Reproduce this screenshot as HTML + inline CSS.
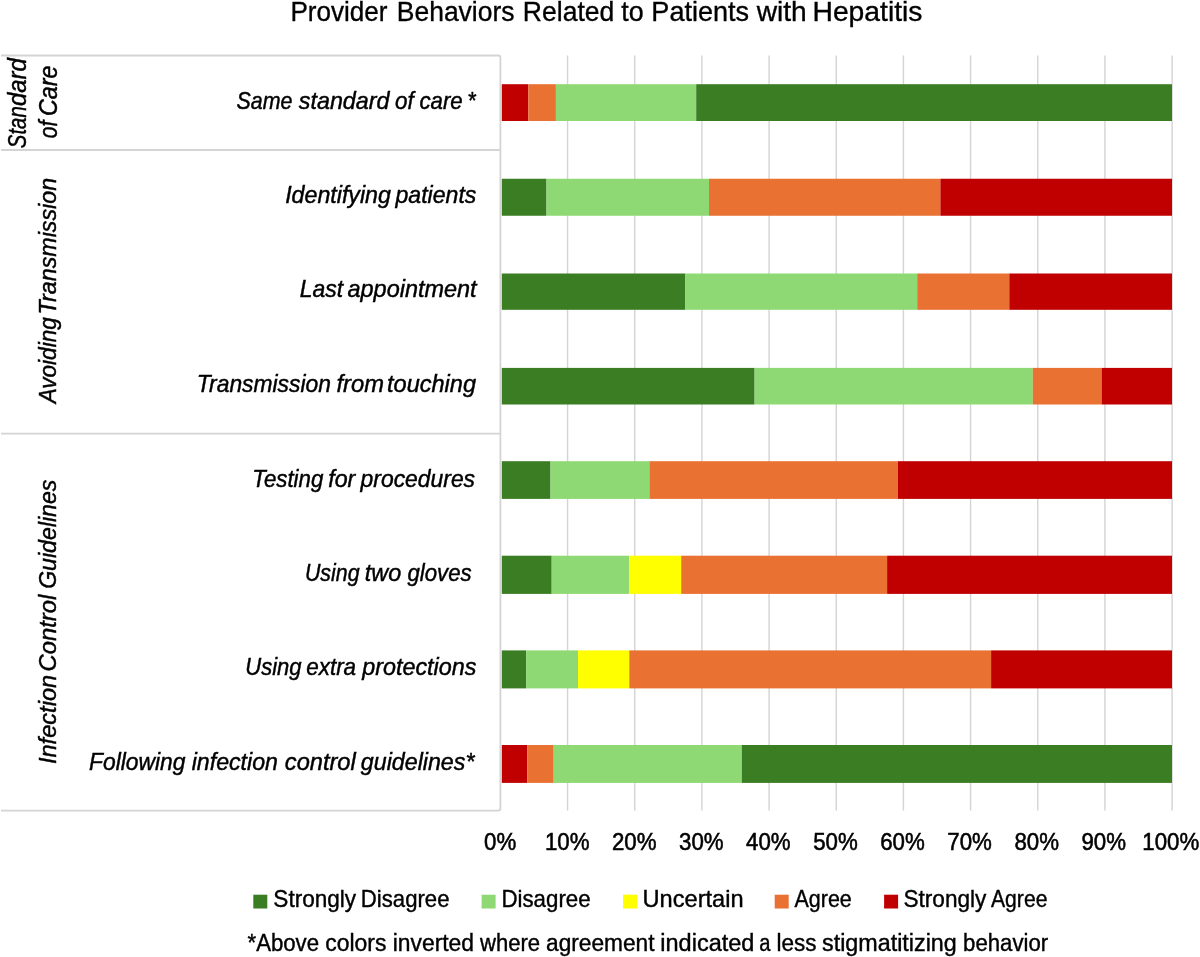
<!DOCTYPE html>
<html><head><meta charset="utf-8"><style>
html,body{margin:0;padding:0;background:#fff;width:1200px;height:957px;overflow:hidden}
svg{display:block;will-change:transform;font-family:"Liberation Sans",sans-serif}
text{fill:#000}
</style></head><body>
<svg width="1200" height="957" viewBox="0 0 1200 957">
<rect width="1200" height="957" fill="#fff"/>
<line x1="567.57" y1="55.5" x2="567.57" y2="810.5" stroke="#D4D4D4" stroke-width="1.4"/>
<line x1="634.74" y1="55.5" x2="634.74" y2="810.5" stroke="#D4D4D4" stroke-width="1.4"/>
<line x1="701.91" y1="55.5" x2="701.91" y2="810.5" stroke="#D4D4D4" stroke-width="1.4"/>
<line x1="769.08" y1="55.5" x2="769.08" y2="810.5" stroke="#D4D4D4" stroke-width="1.4"/>
<line x1="836.25" y1="55.5" x2="836.25" y2="810.5" stroke="#D4D4D4" stroke-width="1.4"/>
<line x1="903.42" y1="55.5" x2="903.42" y2="810.5" stroke="#D4D4D4" stroke-width="1.4"/>
<line x1="970.59" y1="55.5" x2="970.59" y2="810.5" stroke="#D4D4D4" stroke-width="1.4"/>
<line x1="1037.76" y1="55.5" x2="1037.76" y2="810.5" stroke="#D4D4D4" stroke-width="1.4"/>
<line x1="1104.93" y1="55.5" x2="1104.93" y2="810.5" stroke="#D4D4D4" stroke-width="1.4"/>
<line x1="1172.10" y1="55.5" x2="1172.10" y2="810.5" stroke="#D4D4D4" stroke-width="1.4"/>
<line x1="1" y1="150.0" x2="500.4" y2="150.0" stroke="#D4D4D4" stroke-width="1.8"/>
<line x1="1" y1="433.6" x2="500.4" y2="433.6" stroke="#D4D4D4" stroke-width="1.8"/>
<path d="M1 55.5 H498.4 Q500.4 55.5 500.4 57.5 V808.6 Q500.4 810.6 498.4 810.6 H1" fill="none" stroke="#D4D4D4" stroke-width="1.8"/>
<rect x="501.80" y="84.2" width="26.60" height="36.80" fill="#C00000"/>
<rect x="528.40" y="84.2" width="27.50" height="36.80" fill="#E97132"/>
<rect x="555.90" y="84.2" width="140.30" height="36.80" fill="#8ED973"/>
<rect x="696.20" y="84.2" width="475.80" height="36.80" fill="#3A7D22"/>
<rect x="501.80" y="178.75" width="44.70" height="37.00" fill="#3A7D22"/>
<rect x="546.50" y="178.75" width="162.50" height="37.00" fill="#8ED973"/>
<rect x="709.00" y="178.75" width="231.40" height="37.00" fill="#E97132"/>
<rect x="940.40" y="178.75" width="231.60" height="37.00" fill="#C00000"/>
<rect x="501.80" y="273.5" width="183.60" height="36.30" fill="#3A7D22"/>
<rect x="685.40" y="273.5" width="231.80" height="36.30" fill="#8ED973"/>
<rect x="917.20" y="273.5" width="92.10" height="36.30" fill="#E97132"/>
<rect x="1009.30" y="273.5" width="162.70" height="36.30" fill="#C00000"/>
<rect x="501.80" y="367.9" width="252.80" height="36.60" fill="#3A7D22"/>
<rect x="754.60" y="367.9" width="278.20" height="36.60" fill="#8ED973"/>
<rect x="1032.80" y="367.9" width="68.80" height="36.60" fill="#E97132"/>
<rect x="1101.60" y="367.9" width="70.40" height="36.60" fill="#C00000"/>
<rect x="501.80" y="461.2" width="48.70" height="37.70" fill="#3A7D22"/>
<rect x="550.50" y="461.2" width="98.90" height="37.70" fill="#8ED973"/>
<rect x="649.40" y="461.2" width="248.50" height="37.70" fill="#E97132"/>
<rect x="897.90" y="461.2" width="274.10" height="37.70" fill="#C00000"/>
<rect x="501.80" y="555.7" width="49.90" height="38.20" fill="#3A7D22"/>
<rect x="551.70" y="555.7" width="77.60" height="38.20" fill="#8ED973"/>
<rect x="629.30" y="555.7" width="51.90" height="38.20" fill="#FFFF00"/>
<rect x="681.20" y="555.7" width="205.90" height="38.20" fill="#E97132"/>
<rect x="887.10" y="555.7" width="284.90" height="38.20" fill="#C00000"/>
<rect x="501.80" y="650.4" width="24.40" height="38.00" fill="#3A7D22"/>
<rect x="526.20" y="650.4" width="51.80" height="38.00" fill="#8ED973"/>
<rect x="578.00" y="650.4" width="51.30" height="38.00" fill="#FFFF00"/>
<rect x="629.30" y="650.4" width="361.80" height="38.00" fill="#E97132"/>
<rect x="991.10" y="650.4" width="180.90" height="38.00" fill="#C00000"/>
<rect x="501.80" y="745.0" width="25.50" height="37.90" fill="#C00000"/>
<rect x="527.30" y="745.0" width="26.40" height="37.90" fill="#E97132"/>
<rect x="553.70" y="745.0" width="188.10" height="37.90" fill="#8ED973"/>
<rect x="741.80" y="745.0" width="430.20" height="37.90" fill="#3A7D22"/>
<text x="290.44" y="21.25" font-size="28.0" stroke="#000" stroke-width="0.35" textLength="97.11" lengthAdjust="spacingAndGlyphs">Provider</text>
<text x="396.81" y="21.25" font-size="28.0" stroke="#000" stroke-width="0.35" textLength="117.68" lengthAdjust="spacingAndGlyphs">Behaviors</text>
<text x="522.80" y="21.25" font-size="28.0" stroke="#000" stroke-width="0.35" textLength="91.53" lengthAdjust="spacingAndGlyphs">Related</text>
<text x="621.30" y="21.25" font-size="28.0" stroke="#000" stroke-width="0.35" textLength="22.40" lengthAdjust="spacingAndGlyphs">to</text>
<text x="651.37" y="21.25" font-size="28.0" stroke="#000" stroke-width="0.35" textLength="97.77" lengthAdjust="spacingAndGlyphs">Patients</text>
<text x="756.70" y="21.25" font-size="28.0" stroke="#000" stroke-width="0.35" textLength="50.11" lengthAdjust="spacingAndGlyphs">with</text>
<text x="812.48" y="21.25" font-size="28.0" stroke="#000" stroke-width="0.35" textLength="109.97" lengthAdjust="spacingAndGlyphs">Hepatitis</text>
<text x="236.51" y="108.75" font-size="24.0" font-style="italic" stroke="#000" stroke-width="0.45" textLength="55.92" lengthAdjust="spacingAndGlyphs">Same</text>
<text x="298.80" y="108.75" font-size="24.0" font-style="italic" stroke="#000" stroke-width="0.45" textLength="90.72" lengthAdjust="spacingAndGlyphs">standard</text>
<text x="395.00" y="108.75" font-size="24.0" font-style="italic" stroke="#000" stroke-width="0.45" textLength="18.65" lengthAdjust="spacingAndGlyphs">of</text>
<text x="419.47" y="108.75" font-size="24.0" font-style="italic" stroke="#000" stroke-width="0.45" textLength="43.26" lengthAdjust="spacingAndGlyphs">care</text>
<text x="467.20" y="108.75" font-size="24.0" font-style="italic" stroke="#000" stroke-width="0.45" textLength="8.41" lengthAdjust="spacingAndGlyphs">*</text>
<text x="285.13" y="202.5" font-size="24.0" font-style="italic" stroke="#000" stroke-width="0.45" textLength="105.76" lengthAdjust="spacingAndGlyphs">Identifying</text>
<text x="395.46" y="202.5" font-size="24.0" font-style="italic" stroke="#000" stroke-width="0.45" textLength="80.90" lengthAdjust="spacingAndGlyphs">patients</text>
<text x="299.74" y="297.0" font-size="24.0" font-style="italic" stroke="#000" stroke-width="0.45" textLength="43.41" lengthAdjust="spacingAndGlyphs">Last</text>
<text x="347.50" y="297.0" font-size="24.0" font-style="italic" stroke="#000" stroke-width="0.45" textLength="129.11" lengthAdjust="spacingAndGlyphs">appointment</text>
<text x="196.85" y="392.0" font-size="24.0" font-style="italic" stroke="#000" stroke-width="0.45" textLength="134.03" lengthAdjust="spacingAndGlyphs">Transmission</text>
<text x="336.51" y="392.0" font-size="24.0" font-style="italic" stroke="#000" stroke-width="0.45" textLength="47.48" lengthAdjust="spacingAndGlyphs">from</text>
<text x="387.02" y="392.0" font-size="24.0" font-style="italic" stroke="#000" stroke-width="0.45" textLength="88.99" lengthAdjust="spacingAndGlyphs">touching</text>
<text x="252.35" y="486.7" font-size="24.0" font-style="italic" stroke="#000" stroke-width="0.45" textLength="70.94" lengthAdjust="spacingAndGlyphs">Testing</text>
<text x="328.23" y="486.7" font-size="24.0" font-style="italic" stroke="#000" stroke-width="0.45" textLength="27.07" lengthAdjust="spacingAndGlyphs">for</text>
<text x="360.55" y="486.7" font-size="24.0" font-style="italic" stroke="#000" stroke-width="0.45" textLength="114.52" lengthAdjust="spacingAndGlyphs">procedures</text>
<text x="304.91" y="580.8" font-size="24.0" font-style="italic" stroke="#000" stroke-width="0.45" textLength="54.61" lengthAdjust="spacingAndGlyphs">Using</text>
<text x="364.83" y="580.8" font-size="24.0" font-style="italic" stroke="#000" stroke-width="0.45" textLength="36.32" lengthAdjust="spacingAndGlyphs">two</text>
<text x="407.50" y="580.8" font-size="24.0" font-style="italic" stroke="#000" stroke-width="0.45" textLength="64.15" lengthAdjust="spacingAndGlyphs">gloves</text>
<text x="245.33" y="675.4" font-size="24.0" font-style="italic" stroke="#000" stroke-width="0.45" textLength="56.25" lengthAdjust="spacingAndGlyphs">Using</text>
<text x="306.16" y="675.4" font-size="24.0" font-style="italic" stroke="#000" stroke-width="0.45" textLength="49.97" lengthAdjust="spacingAndGlyphs">extra</text>
<text x="362.22" y="675.4" font-size="24.0" font-style="italic" stroke="#000" stroke-width="0.45" textLength="114.17" lengthAdjust="spacingAndGlyphs">protections</text>
<text x="89.05" y="770.0" font-size="24.0" font-style="italic" stroke="#000" stroke-width="0.45" textLength="96.32" lengthAdjust="spacingAndGlyphs">Following</text>
<text x="191.70" y="770.0" font-size="24.0" font-style="italic" stroke="#000" stroke-width="0.45" textLength="86.18" lengthAdjust="spacingAndGlyphs">infection</text>
<text x="284.82" y="770.0" font-size="24.0" font-style="italic" stroke="#000" stroke-width="0.45" textLength="70.95" lengthAdjust="spacingAndGlyphs">control</text>
<text x="360.80" y="770.0" font-size="24.0" font-style="italic" stroke="#000" stroke-width="0.45" textLength="113.64" lengthAdjust="spacingAndGlyphs">guidelines*</text>
<text transform="translate(26.00,148.19) rotate(-90)" font-size="25.8" font-style="italic" stroke="#000" stroke-width="0.45" textLength="41.94" lengthAdjust="spacingAndGlyphs">Stan</text>
<text transform="translate(26.00,106.02) rotate(-90)" font-size="25.8" font-style="italic" stroke="#000" stroke-width="0.45" textLength="47.77" lengthAdjust="spacingAndGlyphs">dard</text>
<text transform="translate(56.90,138.22) rotate(-90)" font-size="25.8" font-style="italic" stroke="#000" stroke-width="0.45" textLength="17.59" lengthAdjust="spacingAndGlyphs">of</text>
<text transform="translate(56.90,116.00) rotate(-90)" font-size="25.8" font-style="italic" stroke="#000" stroke-width="0.45" textLength="50.43" lengthAdjust="spacingAndGlyphs">Care</text>
<text transform="translate(56.30,403.36) rotate(-90)" font-size="24.0" font-style="italic" stroke="#000" stroke-width="0.45" textLength="86.12" lengthAdjust="spacingAndGlyphs">Avoiding</text>
<text transform="translate(56.30,314.44) rotate(-90)" font-size="24.0" font-style="italic" stroke="#000" stroke-width="0.45" textLength="136.53" lengthAdjust="spacingAndGlyphs">Transmission</text>
<text transform="translate(56.30,764.08) rotate(-90)" font-size="24.0" font-style="italic" stroke="#000" stroke-width="0.45" textLength="89.21" lengthAdjust="spacingAndGlyphs">Infection</text>
<text transform="translate(56.30,671.49) rotate(-90)" font-size="24.0" font-style="italic" stroke="#000" stroke-width="0.45" textLength="76.67" lengthAdjust="spacingAndGlyphs">Control</text>
<text transform="translate(56.30,588.86) rotate(-90)" font-size="24.0" font-style="italic" stroke="#000" stroke-width="0.45" textLength="109.25" lengthAdjust="spacingAndGlyphs">Guidelines</text>
<text x="273.36" y="907.0" font-size="24.0" stroke="#000" stroke-width="0.4" textLength="82.68" lengthAdjust="spacingAndGlyphs">Strongly</text>
<text x="360.85" y="907.0" font-size="24.0" stroke="#000" stroke-width="0.4" textLength="88.61" lengthAdjust="spacingAndGlyphs">Disagree</text>
<text x="501.44" y="907.0" font-size="24.0" stroke="#000" stroke-width="0.4" textLength="89.13" lengthAdjust="spacingAndGlyphs">Disagree</text>
<text x="642.53" y="907.0" font-size="24.0" stroke="#000" stroke-width="0.4" textLength="101.06" lengthAdjust="spacingAndGlyphs">Uncertain</text>
<text x="794.50" y="907.0" font-size="24.0" stroke="#000" stroke-width="0.4" textLength="57.24" lengthAdjust="spacingAndGlyphs">Agree</text>
<text x="903.46" y="907.0" font-size="24.0" stroke="#000" stroke-width="0.4" textLength="82.89" lengthAdjust="spacingAndGlyphs">Strongly</text>
<text x="991.00" y="907.0" font-size="24.0" stroke="#000" stroke-width="0.4" textLength="56.42" lengthAdjust="spacingAndGlyphs">Agree</text>
<text x="247.50" y="950.7" font-size="23.5" stroke="#000" stroke-width="0.4" textLength="71.54" lengthAdjust="spacingAndGlyphs">*Above</text>
<text x="325.32" y="950.7" font-size="23.5" stroke="#000" stroke-width="0.4" textLength="61.15" lengthAdjust="spacingAndGlyphs">colors</text>
<text x="392.73" y="950.7" font-size="23.5" stroke="#000" stroke-width="0.4" textLength="81.34" lengthAdjust="spacingAndGlyphs">inverted</text>
<text x="480.00" y="950.7" font-size="23.5" stroke="#000" stroke-width="0.4" textLength="60.15" lengthAdjust="spacingAndGlyphs">where</text>
<text x="546.03" y="950.7" font-size="23.5" stroke="#000" stroke-width="0.4" textLength="108.51" lengthAdjust="spacingAndGlyphs">agreement</text>
<text x="660.30" y="950.7" font-size="23.5" stroke="#000" stroke-width="0.4" textLength="94.08" lengthAdjust="spacingAndGlyphs">indicated</text>
<text x="759.14" y="950.7" font-size="23.5" stroke="#000" stroke-width="0.4" textLength="11.23" lengthAdjust="spacingAndGlyphs">a</text>
<text x="776.54" y="950.7" font-size="23.5" stroke="#000" stroke-width="0.4" textLength="40.02" lengthAdjust="spacingAndGlyphs">less</text>
<text x="822.01" y="950.7" font-size="23.5" stroke="#000" stroke-width="0.4" textLength="134.81" lengthAdjust="spacingAndGlyphs">stigmatitizing</text>
<text x="963.06" y="950.7" font-size="23.5" stroke="#000" stroke-width="0.4" textLength="85.09" lengthAdjust="spacingAndGlyphs">behavior</text>
<text transform="translate(500.10,850.00) scale(0.94,1.0)" font-size="23.7" text-anchor="middle" stroke="#000" stroke-width="0.55">0%</text>
<text transform="translate(567.17,850.00) scale(0.94,1.0)" font-size="23.7" text-anchor="middle" stroke="#000" stroke-width="0.55">10%</text>
<text transform="translate(634.24,850.00) scale(0.94,1.0)" font-size="23.7" text-anchor="middle" stroke="#000" stroke-width="0.55">20%</text>
<text transform="translate(701.31,850.00) scale(0.94,1.0)" font-size="23.7" text-anchor="middle" stroke="#000" stroke-width="0.55">30%</text>
<text transform="translate(768.38,850.00) scale(0.94,1.0)" font-size="23.7" text-anchor="middle" stroke="#000" stroke-width="0.55">40%</text>
<text transform="translate(835.45,850.00) scale(0.94,1.0)" font-size="23.7" text-anchor="middle" stroke="#000" stroke-width="0.55">50%</text>
<text transform="translate(902.52,850.00) scale(0.94,1.0)" font-size="23.7" text-anchor="middle" stroke="#000" stroke-width="0.55">60%</text>
<text transform="translate(969.59,850.00) scale(0.94,1.0)" font-size="23.7" text-anchor="middle" stroke="#000" stroke-width="0.55">70%</text>
<text transform="translate(1036.66,850.00) scale(0.94,1.0)" font-size="23.7" text-anchor="middle" stroke="#000" stroke-width="0.55">80%</text>
<text transform="translate(1103.73,850.00) scale(0.94,1.0)" font-size="23.7" text-anchor="middle" stroke="#000" stroke-width="0.55">90%</text>
<text transform="translate(1170.80,850.00) scale(0.94,1.0)" font-size="23.7" text-anchor="middle" stroke="#000" stroke-width="0.55">100%</text>
<rect x="253.3" y="894.7" width="14" height="13.8" fill="#3A7D22"/>
<rect x="481.6" y="894.7" width="14" height="13.8" fill="#8ED973"/>
<rect x="623.0" y="894.7" width="14" height="13.8" fill="#FFFF00"/>
<rect x="774.7" y="894.7" width="14" height="13.8" fill="#E97132"/>
<rect x="884.1" y="894.7" width="14" height="13.8" fill="#C00000"/>
</svg>
</body></html>
